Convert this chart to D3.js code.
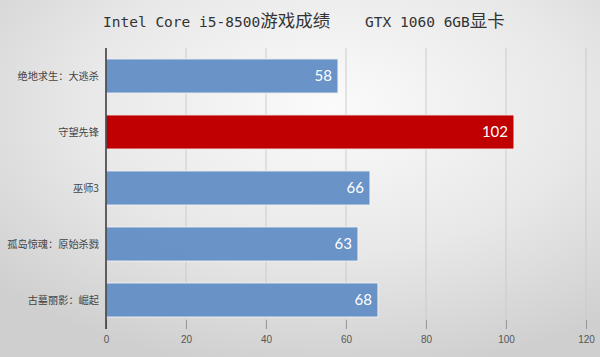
<!DOCTYPE html>
<html><head><meta charset="utf-8">
<script src="https://cdn.jsdelivr.net/npm/d3@7"></script>
<style>html,body{margin:0;padding:0;overflow:hidden;}</style>
</head><body>
<svg id="c" width="600" height="357"></svg>
<script>
const categories = ["绝地求生：大逃杀","守望先锋","巫师3","孤岛惊魂：原始杀戮","古墓丽影：崛起"];
const values = [58,102,66,63,68];
const highlight = [false,true,false,false,false];
const tickValues = [0,20,40,60,80,100,120];

const W=600,H=357;
const svg=d3.select("#c");
const defs=svg.append("defs");
const rg=defs.append("radialGradient").attr("id","bg").attr("cx","0.55").attr("cy","0.3").attr("r","0.75");
rg.append("stop").attr("offset","0").attr("stop-color","#fbfbfb");
rg.append("stop").attr("offset","0.55").attr("stop-color","#e8e8e8");
rg.append("stop").attr("offset","1").attr("stop-color","#cfcfcf");
svg.append("rect").attr("width",W).attr("height",H).attr("fill","url(#bg)");

const x=d3.scaleLinear().domain([0,120]).range([106,586]);
const y=d3.scaleBand().domain(categories).range([48,328]).paddingInner(0.39).paddingOuter(0.195);

// gridlines
svg.append("g").selectAll("line").data(tickValues.slice(1)).join("line")
  .attr("x1",d=>x(d)).attr("x2",d=>x(d)).attr("y1",48).attr("y2",329)
  .attr("stroke","#cbcbcb").attr("stroke-width",1);

// bars
svg.append("g").selectAll("rect").data(categories).join("rect")
  .attr("x",x(0)).attr("y",d=>y(d))
  .attr("width",(d,i)=>x(values[i])-x(0)).attr("height",y.bandwidth())
  .attr("fill",(d,i)=>highlight[i]?"#c00000":"#6590c6")
  .attr("fill-opacity",(d,i)=>highlight[i]?1:0.97)
  .attr("stroke","#f4f4f4").attr("stroke-width",1);

// value labels
svg.append("g").selectAll("text").data(categories).join("text")
  .attr("x",(d,i)=>x(values[i])-6).attr("y",d=>y(d)+y.bandwidth()/2)
  .attr("dy","0.36em").attr("text-anchor","end")
  .attr("fill","#fff").attr("font-family","Lato, 'Open Sans', sans-serif")
  .attr("font-size",15).text((d,i)=>values[i]);

// x axis
const xa=d3.axisBottom(x).tickValues(tickValues).tickSize(9).tickPadding(7).tickFormat(d3.format("d"));
const gx=svg.append("g").attr("transform","translate(0,320)").call(xa);
gx.select(".domain").remove();
gx.selectAll(".tick line").attr("stroke","#999");
gx.selectAll("text").attr("font-family","Arial, 'Liberation Sans', sans-serif").attr("font-size",10).attr("fill","#555");

// y axis line
svg.append("line").attr("x1",x(0)).attr("x2",x(0)).attr("y1",48).attr("y2",329)
  .attr("stroke","#333").attr("stroke-width",1.5);

// category labels
svg.append("g").selectAll("text").data(categories).join("text")
  .attr("x",99).attr("y",d=>y(d)+y.bandwidth()/2).attr("dy","0.36em")
  .attr("text-anchor","end").attr("fill","#444")
  .attr("font-family","'Noto Sans CJK SC', sans-serif").attr("font-size",10.2)
  .text(d=>d);

// title
const t=svg.append("text").attr("x",103).attr("y",27).attr("fill","#333")
  .attr("font-family","'Noto Sans CJK SC', sans-serif").attr("font-size",17.5);
const parts=[["Intel Core i5-8500",true],["游戏成绩",false],["    GTX 1060 6GB",true],["显卡",false]];
parts.forEach(([s,latin])=>{
  const ts=t.append("tspan").text(s).attr("xml:space","preserve").style("white-space","pre");
  if(latin) ts.attr("font-family","'DejaVu Sans Mono', monospace").attr("font-size",14.5);
});
</script>
</body></html>
